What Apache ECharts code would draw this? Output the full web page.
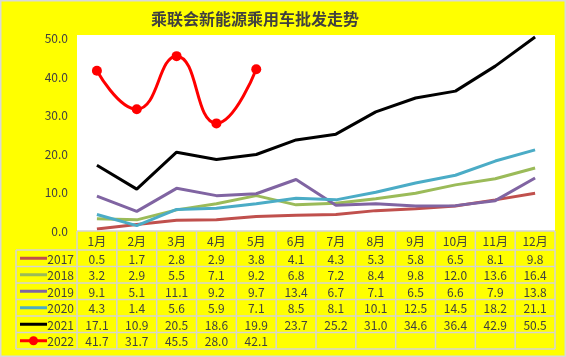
<!DOCTYPE html>
<html><head><meta charset="utf-8">
<script src="https://cdn.jsdelivr.net/npm/echarts@6/dist/echarts.min.js"></script>
<style>html,body{margin:0;padding:0;background:#fff}#c{width:566px;height:357px}</style>
</head><body><div id="c"></div>
<script>
const title = '乘联会新能源乘用车批发走势';
const months = ['1月','2月','3月','4月','5月','6月','7月','8月','9月','10月','11月','12月'];
const yTicks = [0,10,20,30,40,50];
const seriesNames = ['2017','2018','2019','2020','2021','2022'];
const s2017 = [0.5,1.7,2.8,2.9,3.8,4.1,4.3,5.3,5.8,6.5,8.1,9.8];
const s2018 = [3.2,2.9,5.5,7.1,9.2,6.8,7.2,8.4,9.8,12.0,13.6,16.4];
const s2019 = [9.1,5.1,11.1,9.2,9.7,13.4,6.7,7.1,6.5,6.6,7.9,13.8];
const s2020 = [4.3,1.4,5.6,5.9,7.1,8.5,8.1,10.1,12.5,14.5,18.2,21.1];
const s2021 = [17.1,10.9,20.5,18.6,19.9,23.7,25.2,31.0,34.6,36.4,42.9,50.5];
const s2022 = [41.7,31.7,45.5,28.0,42.1];
const colors = ['#C0504D','#9BBB59','#8064A2','#4BACC6','#000000','#FF0000'];

const allData = [s2017,s2018,s2019,s2020,s2021,s2022];
const chart = echarts.init(document.getElementById('c'));
const TXT = '#404040', FONT = '"Noto Sans CJK SC", sans-serif', BORDER = '#d4d4d4';
const series = allData.map((d,i)=>({
  name: seriesNames[i], type:'line', data:d, clip:false,
  smooth: i===5 ? 0.5 : false,
  symbol: i===5 ? 'circle' : 'none', symbolSize: 10,
  lineStyle:{color:colors[i], width:3},
  itemStyle:{color:colors[i]},
  z: 3 + i
}));
chart.setOption({
  backgroundColor:'#FFFF00',
  animation:false,
  title:{text:title,left:250,textAlign:'center',top:6,textStyle:{fontFamily:FONT,fontSize:16,fontWeight:'bold',color:TXT}},
  grid:{left:77,right:11,top:35,bottom:126,show:true,backgroundColor:'#fff',borderWidth:0},
  xAxis:{type:'category',data:months,boundaryGap:true,axisLine:{show:false},axisTick:{show:false},axisLabel:{show:false},splitLine:{show:false}},
  yAxis:{type:'value',min:0,max:51,interval:10,axisLine:{show:false},axisTick:{show:false},splitLine:{show:false},
    axisLabel:{showMaxLabel:false,margin:9,color:TXT,fontFamily:FONT,fontSize:12,formatter:v=>yTicks.indexOf(v)>=0?v.toFixed(1):''}},
  series
});

// table built from arrays, columns positioned by x-axis scale
const c0 = chart.convertToPixel({xAxisIndex:0}, 0);
const c1 = chart.convertToPixel({xAxisIndex:0}, 1);
const cw = c1 - c0;
const left = c0 - cw/2;
const right = left + cw*months.length;
const headTop = 231, headBot = 250, rowH = 16.5;
const legLeft = 16;
const g = [];
// outer border of page
g.push({type:'rect',shape:{x:0.75,y:0.75,width:564.5,height:355.5},style:{fill:null,stroke:'#d9d9d9',lineWidth:1.5},z:0});
// header texts
months.forEach((m,i)=>{
  const x = chart.convertToPixel({xAxisIndex:0}, i);
  g.push({type:'text',style:{text:m,x:x,y:(headTop+headBot)/2+1,align:'center',verticalAlign:'middle',fill:TXT,font:'12px '+FONT},z:10});
});
// data rows
allData.forEach((d,r)=>{
  const yc = headBot + rowH*r + rowH/2 + 1;
  months.forEach((m,i)=>{
    if (i < d.length) {
      const x = chart.convertToPixel({xAxisIndex:0}, i);
      g.push({type:'text',style:{text:d[i].toFixed(1),x:x,y:yc,align:'center',verticalAlign:'middle',fill:TXT,font:'12px '+FONT},z:10});
    }
  });
  // legend key
  g.push({type:'line',shape:{x1:20,y1:yc-1,x2:47,y2:yc-1},style:{stroke:colors[r],lineWidth:3},z:10});
  if (r===5) g.push({type:'circle',shape:{cx:33.5,cy:yc-1,r:4.5},style:{fill:colors[r]},z:11});
  g.push({type:'text',style:{text:seriesNames[r],x:74,y:yc,align:'right',verticalAlign:'middle',fill:TXT,font:'12px '+FONT},z:10});
});
// borders
const bottom = headBot + rowH*allData.length;
const hl = (y,x1)=>g.push({type:'line',shape:{x1:x1,y1:y,x2:right,y2:y},style:{stroke:BORDER,lineWidth:1.5},z:9});
hl(headTop,left);
for (let r=0;r<=allData.length;r++) hl(headBot+rowH*r, legLeft);
for (let i=0;i<=months.length;i++){
  const x = left + cw*i;
  g.push({type:'line',shape:{x1:x,y1:headTop,x2:x,y2:bottom},style:{stroke:BORDER,lineWidth:1.5},z:9});
}
g.push({type:'line',shape:{x1:legLeft,y1:headBot,x2:legLeft,y2:bottom},style:{stroke:BORDER,lineWidth:1.5},z:9});
chart.setOption({graphic:g});
</script></body></html>
